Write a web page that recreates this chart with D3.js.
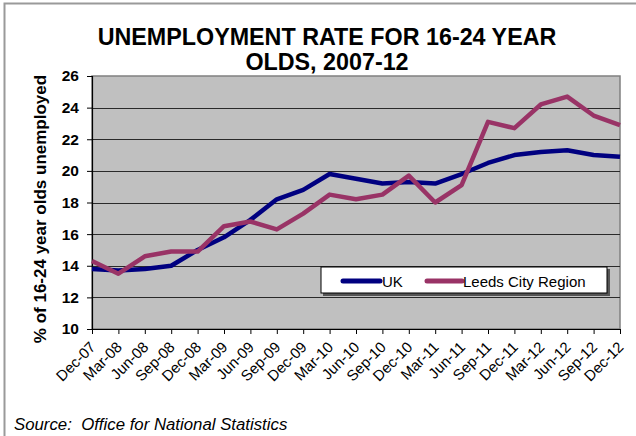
<!DOCTYPE html>
<html>
<head>
<meta charset="utf-8">
<script src="https://cdn.jsdelivr.net/npm/d3@7/dist/d3.min.js"></script>
<style>
  html, body { margin: 0; padding: 0; background: #fff; }
  svg { display: block; font-family: "Liberation Sans", Arial, sans-serif; }
</style>
</head>
<body>
<svg id="chart" width="636" height="436"></svg>
<script>
// Quarterly observations, Dec 2007 to Dec 2012
const months = ["Dec-07","Mar-08","Jun-08","Sep-08","Dec-08","Mar-09","Jun-09","Sep-09","Dec-09",
                "Mar-10","Jun-10","Sep-10","Dec-10","Mar-11","Jun-11","Sep-11","Dec-11","Mar-12",
                "Jun-12","Sep-12","Dec-12"];
const ukRate    = [13.8,13.7,13.8,14.0,15.0,15.8,16.9,18.2,18.8,19.8,19.5,19.2,19.3,19.2,19.8,20.5,21.0,21.2,21.3,21.0,20.9];
const leedsRate = [14.3,13.5,14.6,14.9,14.9,16.5,16.8,16.3,17.3,18.5,18.2,18.5,19.7,18.0,19.1,23.1,22.7,24.2,24.7,23.5,22.9];
const yTicks = [10,12,14,16,18,20,22,24,26];
const seriesNames = ["UK","Leeds City Region"];
const seriesColors = ["#000080","#993366"];

const svg = d3.select("#chart");

const plot = { left: 92, right: 620, top: 76, bottom: 329 };
const x = d3.scalePoint().domain(months).range([plot.left, plot.right]);
const y = d3.scaleLinear().domain([10, 26]).range([plot.bottom, plot.top]);

// outer frame (top and left edges)
svg.append("path")
  .attr("d", "M4.5,436 L4.5,3.5 L636,3.5")
  .attr("fill", "none").attr("stroke", "#9a9a9a").attr("stroke-width", 2);

// title
const title = svg.append("text")
  .attr("text-anchor", "middle")
  .attr("font-weight", "bold").attr("font-size", 23.3).attr("fill", "#000");
title.append("tspan").attr("x", 327).attr("y", 45).text("UNEMPLOYMENT RATE FOR 16-24 YEAR");
title.append("tspan").attr("x", 327).attr("y", 70).text("OLDS, 2007-12");

// plot background
svg.append("rect")
  .attr("x", plot.left).attr("y", plot.top)
  .attr("width", plot.right - plot.left).attr("height", plot.bottom - plot.top)
  .attr("fill", "#c0c0c0").attr("stroke", "#808080").attr("stroke-width", 1.5);

// horizontal gridlines
svg.append("g").selectAll("line")
  .data(yTicks.filter(v => v > 10 && v < 26))
  .join("line")
  .attr("x1", plot.left).attr("x2", plot.right)
  .attr("y1", d => Math.round(y(d)) + 0.5).attr("y2", d => Math.round(y(d)) + 0.5)
  .attr("stroke", "#2a2a2a").attr("stroke-width", 1);

// y axis
const yAxis = svg.append("g")
  .attr("transform", `translate(${plot.left},0)`)
  .call(d3.axisLeft(y).tickValues(yTicks).tickSize(5).tickPadding(8).tickFormat(d3.format("d")));
yAxis.select(".domain").attr("stroke", "#000").attr("stroke-width", 1.2);
yAxis.selectAll(".tick line").attr("stroke", "#000");
yAxis.selectAll(".tick text")
  .attr("font-family", "Liberation Sans, Arial, sans-serif")
  .attr("font-size", 15.5).attr("font-weight", "bold").attr("fill", "#000");

// x axis
const xAxis = svg.append("g")
  .attr("transform", `translate(0,${plot.bottom})`)
  .call(d3.axisBottom(x).tickSize(5).tickSizeOuter(0));
xAxis.select(".domain").attr("stroke", "#000").attr("stroke-width", 1.2);
xAxis.selectAll(".tick line").attr("stroke", "#000");
xAxis.selectAll(".tick text")
  .attr("font-family", "Liberation Sans, Arial, sans-serif")
  .attr("font-size", 15).attr("fill", "#000")
  .attr("text-anchor", "end")
  .attr("x", 0).attr("y", 0).attr("dy", 0)
  .attr("transform", "translate(4,19) rotate(-45)");

// y axis title
svg.append("text")
  .attr("transform", "translate(46,209) rotate(-90)")
  .attr("text-anchor", "middle")
  .attr("font-weight", "bold").attr("font-size", 17).attr("fill", "#000")
  .text("% of 16-24 year olds unemployed");

// series lines
const line = d3.line().x((d, i) => x(months[i])).y(d => y(d));
[ukRate, leedsRate].forEach((vals, k) => {
  svg.append("path")
    .datum(vals)
    .attr("d", line)
    .attr("fill", "none")
    .attr("stroke", seriesColors[k])
    .attr("stroke-width", 4.5)
    .attr("stroke-linejoin", "round");
});

// legend
const lg = svg.append("g");
lg.append("rect").attr("x", 323).attr("y", 269).attr("width", 287).attr("height", 27).attr("fill", "#555");
lg.append("rect").attr("x", 321).attr("y", 267).attr("width", 286).attr("height", 26)
  .attr("fill", "#fff").attr("stroke", "#000").attr("stroke-width", 1);
const legendItems = [
  { name: seriesNames[0], color: seriesColors[0], x1: 343, x2: 380, tx: 382 },
  { name: seriesNames[1], color: seriesColors[1], x1: 427, x2: 462, tx: 463 }
];
legendItems.forEach(it => {
  lg.append("line").attr("x1", it.x1).attr("x2", it.x2).attr("y1", 281).attr("y2", 281)
    .attr("stroke", it.color).attr("stroke-width", 5).attr("stroke-linecap", "round");
  lg.append("text").attr("x", it.tx).attr("y", 286.5)
    .attr("font-size", 15).attr("fill", "#000").text(it.name);
});

// source note
svg.append("text")
  .attr("x", 14).attr("y", 430)
  .attr("font-size", 16.8).attr("font-style", "italic").attr("fill", "#000")
  .style("white-space", "pre")
  .text("Source:  Office for National Statistics");
</script>
</body>
</html>
